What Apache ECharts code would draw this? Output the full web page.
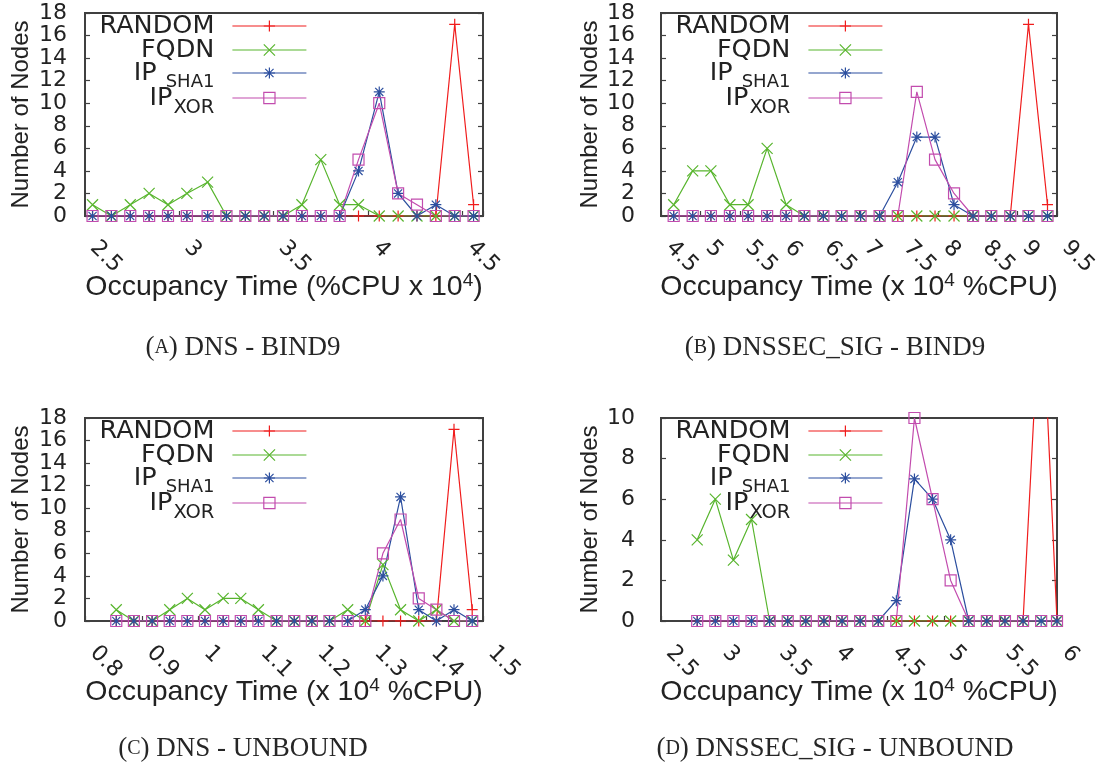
<!DOCTYPE html>
<html><head><meta charset="utf-8">
<script src="https://cdn.jsdelivr.net/npm/echarts@6/dist/echarts.min.js"></script>
<style>html,body{margin:0;padding:0;background:#fff}#c{width:1101px;height:765px}</style>
</head><body><div id="c"></div>
<script>
// ---------- data ----------
const seriesNames = ['RANDOM', 'FQDN', 'IP_SHA1', 'IP_XOR'];
const legendLabels = ['{m|RANDOM}', '{m|FQDN}', '{m|IP}{s1|SHA1}', '{m|IP}{s2|XOR}'];

// (a) DNS - BIND9
const xA = [2.54,2.64,2.74,2.84,2.94,3.04,3.15,3.25,3.35,3.45,3.55,3.65,3.75,3.85,3.95,4.06,4.16,4.26,4.36,4.46,4.56];
const randomA = [0,0,0,0,0,0,0,0,0,0,0,0,0,0,0,0,0,0,0,17,1];
const fqdnA   = [1,0,1,2,1,2,3,0,0,0,0,1,5,1,1,0,0,0,0,0,0];
const sha1A   = [0,0,0,0,0,0,0,0,0,0,0,0,0,0,4,11,2,0,1,0,0];
const xorA    = [0,0,0,0,0,0,0,0,0,0,0,0,0,0,5,10,2,1,0,0,0];
const xTicksA = ['2.5','3','3.5','4','4.5'];

// (b) DNSSEC_SIG - BIND9
const xB = [4.66,4.90,5.13,5.37,5.60,5.84,6.08,6.31,6.55,6.78,7.02,7.26,7.49,7.73,7.96,8.20,8.44,8.67,8.91,9.14,9.38];
const randomB = [0,0,0,0,0,0,0,0,0,0,0,0,0,0,0,0,0,0,0,17,1];
const fqdnB   = [1,4,4,1,1,6,1,0,0,0,0,0,0,0,0,0,0,0,0,0,0];
const sha1B   = [0,0,0,0,0,0,0,0,0,0,0,0,3,7,7,1,0,0,0,0,0];
const xorB    = [0,0,0,0,0,0,0,0,0,0,0,0,0,11,5,2,0,0,0,0,0];
const xTicksB = ['4.5','5','5.5','6','6.5','7','7.5','8','8.5','9','9.5'];

// (c) DNS - UNBOUND
const xC = [0.855,0.886,0.918,0.949,0.980,1.011,1.043,1.074,1.105,1.137,1.168,1.199,1.230,1.262,1.293,1.324,1.355,1.387,1.418,1.449,1.481];
const randomC = [0,0,0,0,0,0,0,0,0,0,0,0,0,0,0,0,0,0,0,17,1];
const fqdnC   = [1,0,0,1,2,1,2,2,1,0,0,0,0,1,0,5,1,0,1,0,0];
const sha1C   = [0,0,0,0,0,0,0,0,0,0,0,0,0,0,1,4,11,1,0,1,0];
const xorC    = [0,0,0,0,0,0,0,0,0,0,0,0,0,0,0,6,9,2,1,0,0];
const xTicksC = ['0.8','0.9','1','1.1','1.2','1.3','1.4','1.5'];

// (d) DNSSEC_SIG - UNBOUND
const xD = [2.82,2.98,3.14,3.30,3.46,3.62,3.78,3.94,4.10,4.26,4.42,4.58,4.74,4.90,5.06,5.22,5.38,5.54,5.70,5.86,6.00];
const randomD = [0,0,0,0,0,0,0,0,0,0,0,0,0,0,0,0,0,0,0,17,0];
const fqdnD   = [4,6,3,5,0,0,0,0,0,0,0,0,0,0,0,0,0,0,0,0,0];
const sha1D   = [0,0,0,0,0,0,0,0,0,0,0,1,7,6,4,0,0,0,0,0,0];
const xorD    = [0,0,0,0,0,0,0,0,0,0,0,0,10,6,2,0,0,0,0,0,0];
const xTicksD = ['2.5','3','3.5','4','4.5','5','5.5','6'];

const xNameA = 'Occupancy Time (%CPU x 10{sup|4})';
const xNameB = 'Occupancy Time (x 10{sup|4} %CPU)';
const yName = 'Number of Nodes';
const captions = ['({sc|A}) DNS - BIND9', '({sc|B}) DNSSEC_SIG - BIND9', '({sc|C}) DNS - UNBOUND', '({sc|D}) DNSSEC_SIG - UNBOUND'];

// ---------- styles / layout ----------
const colors = ['#f01c1c', '#58b52e', '#2c4f9f', '#c24cae'];
const symbols = [
  'path://M5,0L5,10M0,5L10,5',
  'path://M0,0L10,10M0,10L10,0',
  'path://M5,0L5,10M0,5L10,5M1.3,1.3L8.7,8.7M1.3,8.7L8.7,1.3',
  'path://M0,0L10,0L10,10L0,10Z'
];
const SANS = 'DejaVu Sans';
const TXT = '#222';
const AX = '#404040';

const panels = [
  {x: xA, vals: [randomA, fqdnA, sha1A, xorA], ticks: xTicksA, xname: xNameA,
   grid: {left: 85, top: 13, width: 398, height: 203}, xmin: 2.5, xmax: 4.61, xint: 0.5, ymax: 18,
   ylm: 18, yng: 50, legRight: 307, cap: captions[0], capX: 243, capY: 348},
  {x: xB, vals: [randomB, fqdnB, sha1B, xorB], ticks: xTicksB, xname: xNameB,
   grid: {left: 661, top: 13, width: 396, height: 203}, xmin: 4.5, xmax: 9.5, xint: 0.5, ymax: 18,
   ylm: 26, yng: 57, legRight: 883, cap: captions[1], capX: 835, capY: 348},
  {x: xC, vals: [randomC, fqdnC, sha1C, xorC], ticks: xTicksC, xname: xNameB,
   grid: {left: 85, top: 418, width: 398, height: 203}, xmin: 0.8, xmax: 1.5, xint: 0.1, ymax: 18,
   ylm: 18, yng: 50, legRight: 307, cap: captions[2], capX: 243, capY: 749},
  {x: xD, vals: [randomD, fqdnD, sha1D, xorD], ticks: xTicksD, xname: xNameB,
   grid: {left: 661, top: 418, width: 396, height: 203}, xmin: 2.5, xmax: 6, xint: 0.5, ymax: 10,
   ylm: 26, yng: 57, legRight: 883, cap: captions[3], capX: 835, capY: 749}
];
const legCy = [25.5, 49.5, 73.5, 97.5];

const grids = [], xAxes = [], yAxes = [], series = [], legends = [], graphics = [];
panels.forEach((p, pi) => {
  grids.push(Object.assign({show: true, borderColor: AX, borderWidth: 2, backgroundColor: 'transparent'}, p.grid));
  xAxes.push({
    gridIndex: pi, type: 'value', min: p.xmin, max: p.xmax, interval: p.xint,
    axisLine: {show: true, onZero: false, lineStyle: {color: AX, width: 2}},
    axisTick: {show: true, inside: true, length: 5, lineStyle: {color: AX, width: 1.2}},
    splitLine: {show: false},
    axisLabel: {
      rotate: -45, margin: 20, padding: [0, 0, 0, 12], fontSize: 22, fontFamily: SANS, color: TXT,
      showMaxLabel: true, showMinLabel: true,
      formatter: v => { const t = p.ticks.find(s => Math.abs(parseFloat(s) - v) < 1e-6); return t || ''; }
    },
    name: p.xname, nameLocation: 'middle', nameGap: 55, nameMoveOverlap: false,
    nameTextStyle: {fontSize: 28.5, fontFamily: 'Liberation Sans', color: TXT, lineHeight: 32,
      rich: {sup: {fontSize: 19, fontFamily: 'Liberation Sans', color: TXT, lineHeight: 19, padding: [0, 0, 13, 0]}}}
  });
  yAxes.push({
    gridIndex: pi, type: 'value', min: 0, max: p.ymax, interval: 2, position: 'left',
    axisLine: {show: true, lineStyle: {color: AX, width: 2}},
    axisTick: {show: true, inside: true, length: 5, lineStyle: {color: AX, width: 1.2}},
    splitLine: {show: false},
    axisLabel: {margin: p.ylm, fontSize: 22, fontFamily: SANS, color: TXT},
    name: yName, nameLocation: 'middle', nameGap: p.yng, nameMoveOverlap: false,
    nameTextStyle: {fontSize: 24, fontFamily: 'Liberation Sans', color: TXT, lineHeight: 28}
  });
  yAxes.push({
    gridIndex: pi, type: 'value', min: 0, max: p.ymax, interval: 2, position: 'right',
    axisLine: {show: true, lineStyle: {color: AX, width: 2}},
    axisTick: {show: true, inside: true, length: 5, lineStyle: {color: AX, width: 1.2}},
    splitLine: {show: false}, axisLabel: {show: false}
  });
  seriesNames.forEach((nm, k) => {
    series.push({
      type: 'line', name: nm, xAxisIndex: pi, yAxisIndex: pi * 2, clip: true,
      data: p.x.map((xx, i) => [xx, p.vals[k][i]]),
      symbol: symbols[k], symbolSize: 11, showSymbol: true,
      lineStyle: {color: colors[k], width: 1.2},
      itemStyle: {color: 'rgba(0,0,0,0)', borderColor: colors[k], borderWidth: 1.2},
      emphasis: {disabled: true}, animation: false
    });
    const H = k >= 2 ? 38 : 25;
    legends.push({
      data: [nm], orient: 'vertical', align: 'right', padding: 0, itemGap: 0,
      right: 1101 - p.legRight, top: p.grid.top - 13 + legCy[k] - H / 2,
      itemWidth: 74, itemHeight: 14, selectedMode: false,
      formatter: () => legendLabels[k],
      itemStyle: {borderWidth: 1.2},
      lineStyle: {width: 1.2},
      textStyle: {padding: [0, 13, 0, 0], color: TXT, rich: {
        m: {fontSize: 25.5, fontFamily: SANS, color: TXT, lineHeight: 25},
        s1: {fontSize: 18, fontFamily: SANS, color: TXT, lineHeight: 19, padding: [19, 0, 0, 9]},
        s2: {fontSize: 19.5, fontFamily: SANS, color: TXT, lineHeight: 19, padding: [19, 0, 0, 1]}
      }}
    });
  });
  graphics.push({
    type: 'text', x: p.capX, y: p.capY,
    style: {text: p.cap, fontSize: 27, fontFamily: 'Liberation Serif', fill: '#262626', align: 'center', verticalAlign: 'middle',
      rich: {sc: {fontSize: 20, fontFamily: 'Liberation Serif', fill: '#262626', color: '#262626'}}}
  });
});

const chart = echarts.init(document.getElementById('c'), null, {renderer: 'canvas'});
chart.setOption({
  animation: false, backgroundColor: '#fff',
  grid: grids, xAxis: xAxes, yAxis: yAxes, series: series, legend: legends, graphic: graphics
});
</script></body></html>
